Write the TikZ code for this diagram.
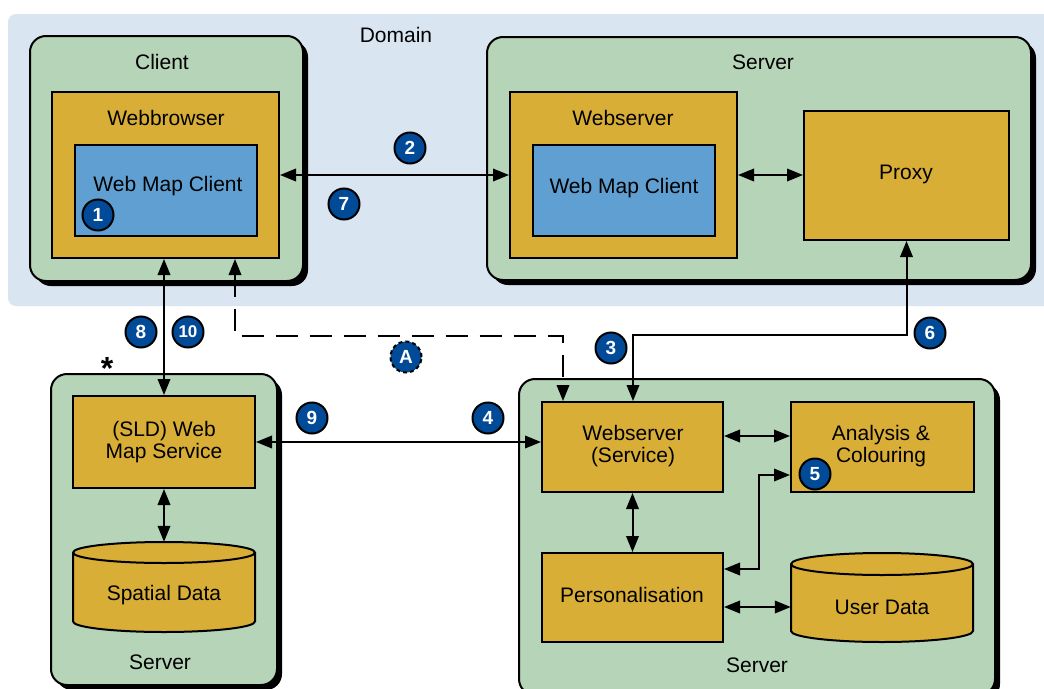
\documentclass[tikz,border=0pt]{standalone}
\usepackage{fontspec}
\setmainfont{Liberation Sans}
\usetikzlibrary{arrows.meta,shadows}
\definecolor{dombg}{HTML}{DAE5F2}
\definecolor{grn}{HTML}{B5D4B8}
\definecolor{gold}{HTML}{D8AE37}
\definecolor{wmc}{HTML}{5F9FD1}
\definecolor{badgeblue}{HTML}{004A97}
\begin{document}
\begin{tikzpicture}[x=1pt,y=-1pt,
  font=\fontsize{21}{22}\selectfont,
  container/.style={rectangle, draw=black, line width=2pt, fill=grn, rounded corners=16pt, inner sep=0pt,
    drop shadow={shadow xshift=5pt, shadow yshift=-5pt, fill=black, opacity=1}},
  goldbox/.style={rectangle, draw=black, line width=2pt, fill=gold, inner sep=0pt},
  bluebox/.style={rectangle, draw=black, line width=2pt, fill=wmc, inner sep=0pt},
  lbl/.style={inner sep=0pt, align=center},
  badge/.style={circle, fill=badgeblue, draw=black, line width=2pt, minimum size=31pt, inner sep=0pt,
    text=white, font=\fontsize{19}{19}\selectfont\bfseries},
  tip/.style={Triangle[length=16pt,width=12.5pt]},
  dbl/.style={line width=2pt, {Triangle[length=16pt,width=12.5pt]}-{Triangle[length=16pt,width=12.5pt]}},
  dsh/.style={line width=2pt, dash pattern=on 22pt off 12pt, {Triangle[length=16pt,width=12.5pt]}-{Triangle[length=16pt,width=12.5pt]}}
]
\useasboundingbox (0,0) rectangle (1044,688);
\clip (0,0) rectangle (1044,688);
\fill[white] (0,0) rectangle (1044,688);

% Domain
\fill[dombg, rounded corners=8pt] (8,14) rectangle (1060,306);
\node[lbl] (domain) at (396,35) {Domain};

% Containers
\node[container, minimum width=273, minimum height=245] (client) at (166.5,158.5) {};
\node[container, minimum width=544, minimum height=243] (srvtop) at (759,158.5) {};
\node[container, minimum width=226, minimum height=311] (srvleft) at (164,529.5) {};
\node[container, minimum width=476, minimum height=316] (srvright) at (757,537) {};

\node[lbl] (clientlbl) at (162,62) {Client};
\node[lbl] (srvtoplbl) at (763,62) {Server};
\node[lbl] (srvleftlbl) at (160,662) {Server};
\node[lbl] (srvrightlbl) at (757,665) {Server};

% Client content
\node[goldbox, minimum width=227, minimum height=166] (wb) at (165.5,175) {};
\node[lbl] (wblbl) at (166,118) {Webbrowser};
\node[bluebox, minimum width=182, minimum height=91] (wmc1) at (166,190.5) {};
\node[lbl] (wmc1lbl) at (168,186) {Web Map Client};

% Server top content
\node[goldbox, minimum width=227, minimum height=166] (ws) at (623.5,175) {};
\node[lbl] (wslbl) at (623,118) {Webserver};
\node[bluebox, minimum width=182, minimum height=91] (wmc2) at (623.5,190.5) {};
\node[lbl] (wmc2lbl) at (624,188) {Web Map Client};
\node[goldbox, minimum width=205, minimum height=129] (proxy) at (906.5,175.5) {};
\node[lbl] (proxylbl) at (906,174) {Proxy};

% Left server content
\node[goldbox, minimum width=182, minimum height=92] (sld) at (164,442) {};
\node[lbl] (sldlbl) at (164,442) {(SLD) Web\\Map Service};
\fill[gold] (73,552.5) -- (73,621.5) arc[start angle=180,end angle=0,x radius=91,y radius=10.5]
  -- (255,552.5) arc[start angle=0,end angle=-180,x radius=91,y radius=10.5] -- cycle;
\draw[line width=2pt] (73,552.5) -- (73,621.5) arc[start angle=180,end angle=0,x radius=91,y radius=10.5]
  -- (255,552.5) arc[start angle=0,end angle=-180,x radius=91,y radius=10.5] -- cycle;
\draw[line width=2pt] (73,552.5) arc[start angle=180,end angle=0,x radius=91,y radius=10.5];
\node[inner sep=0pt, minimum width=182, minimum height=90] (sd) at (164,587) {};
\node[lbl] (sdlbl) at (164,595) {Spatial Data};

% Right server content
\node[goldbox, minimum width=181, minimum height=90] (wss) at (632.5,447) {};
\node[lbl] (wsslbl) at (633,446) {Webserver\\(Service)};
\node[goldbox, minimum width=183, minimum height=90] (ana) at (882.5,447) {};
\node[lbl] (analbl) at (881,446) {Analysis \&\\Colouring};
\node[goldbox, minimum width=181, minimum height=89] (pers) at (632.5,597.5) {};
\node[lbl] (perslbl) at (632,595) {Personalisation};
\fill[gold] (791,564) -- (791,631) arc[start angle=180,end angle=0,x radius=91,y radius=11]
  -- (973,564) arc[start angle=0,end angle=-180,x radius=91,y radius=11] -- cycle;
\draw[line width=2pt] (791,564) -- (791,631) arc[start angle=180,end angle=0,x radius=91,y radius=11]
  -- (973,564) arc[start angle=0,end angle=-180,x radius=91,y radius=11] -- cycle;
\draw[line width=2pt] (791,564) arc[start angle=180,end angle=0,x radius=91,y radius=11];
\node[inner sep=0pt, minimum width=182, minimum height=89] (ud) at (882,597.5) {};
\node[lbl] (udlbl) at (882,607) {User Data};

% Connectors
\coordinate (c3) at (633,335);
\draw[dbl] (wb.east) -- (ws.west);
\draw[dbl] (ws.east) -- (proxy.west |- ws.east);
\draw[dbl] (wb.south -| sld.north) -- (sld.north);
\draw[dbl] (sld.east) -- (wss.west |- sld.east);
\draw[dsh] ([xshift=69.5pt]wb.south) -- ++(0,77) -| ([xshift=-69.5pt]wss.north);
\draw[dbl] (proxy.south) |- (c3) -- (wss.north -| c3);
\draw[dbl] ([yshift=11pt]wss.east) -- ([yshift=11pt]ana.west);
\draw[dbl] (wss.south) -- (pers.north);
\draw[dbl] ([yshift=28.5pt]pers.east) -- ++(35,0) |- ([yshift=-28pt]ana.west);
\draw[dbl] ([yshift=-9.5pt]pers.east) -- ([yshift=-9.5pt]ud.west);
\draw[dbl] (sld.south) -- (sd.north);

% Badges
\node[badge] (b1) at (98,215) {1};
\node[badge] (b2) at (410,148) {2};
\node[badge] (b3) at (611,348) {3};
\node[badge] (b4) at (488,418) {4};
\node[badge] (b5) at (815,474) {5};
\node[badge] (b6) at (930,333) {6};
\node[badge] (b7) at (344,204) {7};
\node[badge] (b8) at (141,332) {8};
\node[badge] (b9) at (312,418) {9};
\node[badge, font=\fontsize{17}{17}\selectfont\bfseries] (b10) at (188,332) {10};
\node[badge, dash pattern=on 4pt off 3pt] (bA) at (406,357) {A};

\node[inner sep=0pt, font=\fontsize{32}{32}\selectfont\bfseries] (star) at (107,368) {*};
\end{tikzpicture}
\end{document}
